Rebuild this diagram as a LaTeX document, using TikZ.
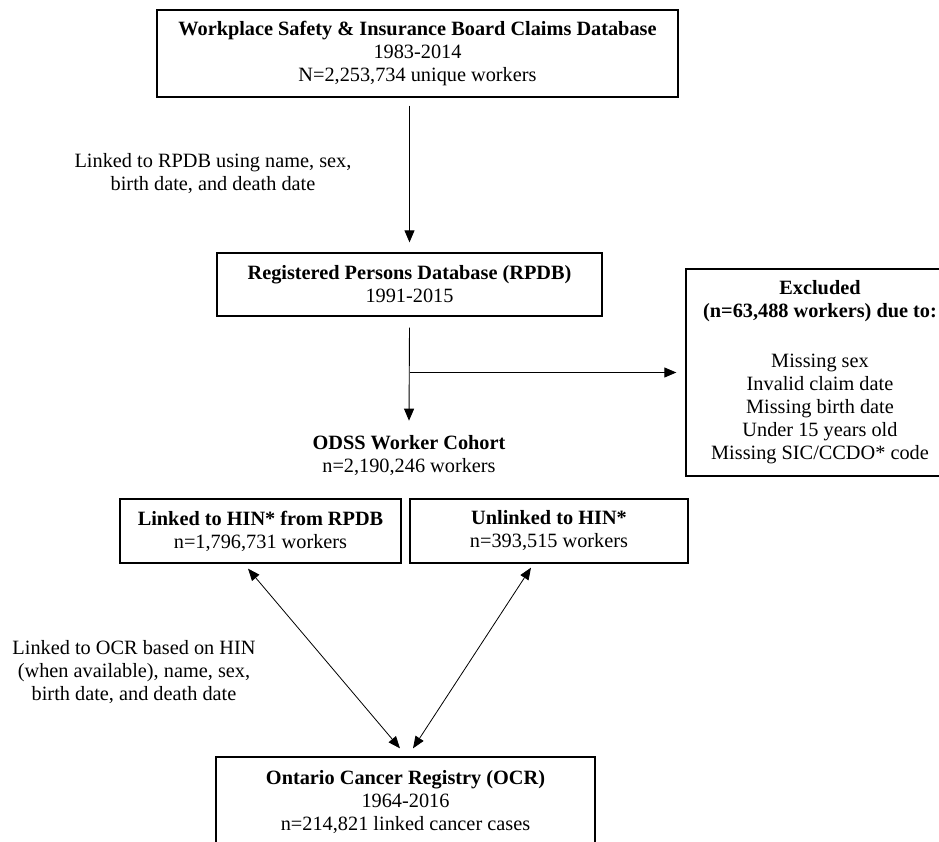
\documentclass[tikz,border=0pt]{standalone}
\usepackage{fontspec}
\setmainfont{Liberation Serif}
\usetikzlibrary{arrows.meta}
\begin{document}
\begin{tikzpicture}[x=1pt,y=-1pt,
  every node/.style={font=\fontsize{20.3}{23}\selectfont, align=center, inner sep=0pt},
  box/.style={draw, line width=1.3pt},
  arr/.style={line width=0.9pt, -{Triangle[length=12pt,width=10pt]}},
  darr/.style={line width=0.8pt, {Triangle[length=12pt,width=9.5pt]}-{Triangle[length=12pt,width=9.5pt]}}]
\useasboundingbox (0,0) rectangle (939,842);
\clip (0,0) rectangle (939,842);
\node[box, minimum width=521pt, minimum height=87pt] (wsib) at (417.5,53.5)
  {\textbf{Workplace Safety \& Insurance Board Claims Database}\\1983-2014\\N=2,253,734 unique workers};
\node[box, minimum width=385pt, minimum height=63pt] (rpdb) at (409.5,284.5)
  {\textbf{Registered Persons Database (RPDB)}\\1991-2015};
\node[box, minimum width=268pt, minimum height=207pt] (excl) at (820,372.5)
  {\textbf{Excluded}\\\textbf{(n=63,488 workers) due to:}\\[27pt]Missing sex\\Invalid claim date\\Missing birth date\\Under 15 years old\\Missing SIC/CCDO* code};
\node (odss) at (409,456) {\textbf{ODSS Worker Cohort}\\n=2,190,246 workers};
\node[box, minimum width=281pt, minimum height=64pt] (hin) at (260.5,531)
  {\textbf{Linked to HIN* from RPDB}\\n=1,796,731 workers};
\node[box, minimum width=278pt, minimum height=64pt] (unl) at (549,531)
  {\textbf{Unlinked to HIN*}\\n=393,515 workers};
\node[box, minimum width=379pt, minimum height=90pt] (ocr) at (405.5,802)
  {\textbf{Ontario Cancer Registry (OCR)}\\1964-2016\\n=214,821 linked cancer cases};
\node (l1) at (213,174) {Linked to RPDB using name, sex,\\birth date, and death date};
\node (l2) at (134,672) {Linked to OCR based on HIN\\(when available), name, sex,\\birth date, and death date};
\draw[arr] ([yshift=-8pt]wsib.south -| rpdb.north) -- ([yshift=10pt]rpdb.north);
\draw[arr] ([yshift=-11pt]rpdb.south) -- ([yshift=15pt]odss.north);
\draw[arr] (rpdb.south |- excl.west) -- ([xshift=-9pt]excl.west);
\draw[darr] ([shift={(-12.5pt,-5pt)}]hin.south) -- ([shift={(-5.5pt,8pt)}]ocr.north);
\draw[darr] ([shift={(-18pt,-4pt)}]unl.south) -- ([shift={(7.5pt,8pt)}]ocr.north);
\end{tikzpicture}
\end{document}
